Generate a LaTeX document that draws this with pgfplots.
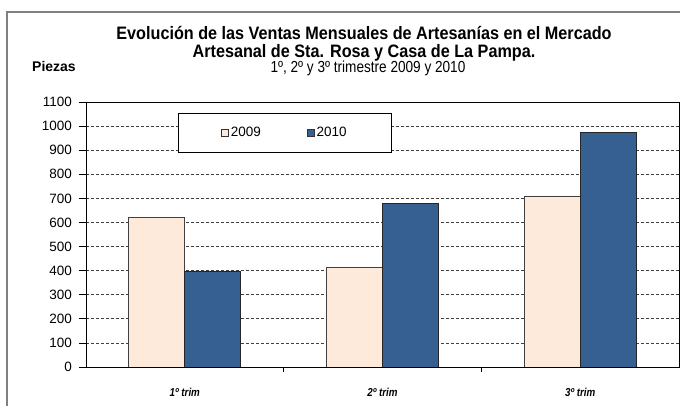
\documentclass[border=0pt]{standalone}
\usepackage{fontspec}
\setmainfont{Liberation Sans}
\newfontfamily\narrowfont[FakeStretch=0.85]{Liberation Sans}
\newfontfamily\titlefont[FakeStretch=0.9]{Liberation Sans}
\usepackage{pgfplots}
\pgfplotsset{compat=1.18}
\definecolor{c2009}{HTML}{FDEADA}
\definecolor{c2010}{HTML}{376092}
\definecolor{gridc}{HTML}{404040}
\definecolor{framec}{HTML}{808080}

\begin{document}
\begin{tikzpicture}[x=1pt,y=1pt]
\useasboundingbox (0,0) rectangle (680,406);
\begin{scope}
  \clip (0,0) rectangle (680,406);
  \fill[white] (0,0) rectangle (680,406);
  \draw[framec, line width=1.5pt] (7,394) rectangle (720,-30);
\end{scope}

% titles
\node[font=\titlefont\bfseries\fontsize{18}{21}\selectfont, anchor=base] at (364,366)
  {Evolución de las Ventas Mensuales de Artesanías en el Mercado};
\node[font=\titlefont\bfseries\fontsize{18}{21}\selectfont, anchor=base] at (364,348)
  {Artesanal de Sta. Rosa y Casa de La Pampa.};
\node[font=\narrowfont\fontsize{16}{19}\selectfont, anchor=base] at (368,333)
  {1º, 2º y 3º trimestre 2009 y 2010};
\node[font=\bfseries\fontsize{14}{17}\selectfont, anchor=base west, inner sep=0pt] at (32,334)
  {Piezas};

\begin{axis}[
  at={(86pt,39pt)}, anchor=south west,
  scale only axis, width=593pt, height=265pt,
  ybar=0pt, bar width=56pt,
  xmin=-0.5, xmax=2.5,
  ymin=0, ymax=1100,
  xtick={0,1,2},
  xticklabels={1º trim, 2º trim, 3º trim},
  minor xtick={0.5,1.5},
  major x tick style={draw=none},
  ytick={0,100,...,1100},
  tick pos=left,
  tick align=outside,
  major tick length=7pt,
  minor tick length=5pt,
  tick style={black, line width=0.8pt},
  axis line style={black, line width=0.8pt},
  ymajorgrids,
  grid style={gridc, line width=0.7pt, dash pattern=on 3pt off 2pt},
  /pgf/number format/assume math mode=true,
  /pgf/number format/1000 sep={},
  yticklabel style={font=\fontsize{13.5}{15}\selectfont, inner sep=0pt, xshift=-7pt},
  xticklabel style={font=\narrowfont\bfseries\itshape\fontsize{11.5}{13}\selectfont, yshift=-11pt},
  legend columns=2,
  legend style={
    at={(rel axis cs:0.155,0.958)}, anchor=north west,
    draw=black, line width=0.8pt,
    inner xsep=43pt, inner ysep=12pt,
    /tikz/every even column/.append style={column sep=44pt},
    font=\fontsize{13.5}{15}\selectfont,
    cells={anchor=west},
  },
  legend image code/.code={%
    \draw[#1, draw=black!80, line width=0.6pt] (0pt,-3.5pt) rectangle (7pt,3.5pt);},
]
  \addplot[fill=c2009, draw=black!75, line width=0.7pt]
    coordinates {(0,620) (1,415) (2,710)};
  \addplot[fill=c2010, draw=black!85, line width=0.7pt]
    coordinates {(0,398) (1,678) (2,972)};
  \legend{2009, 2010}
\end{axis}
\end{tikzpicture}
\end{document}
